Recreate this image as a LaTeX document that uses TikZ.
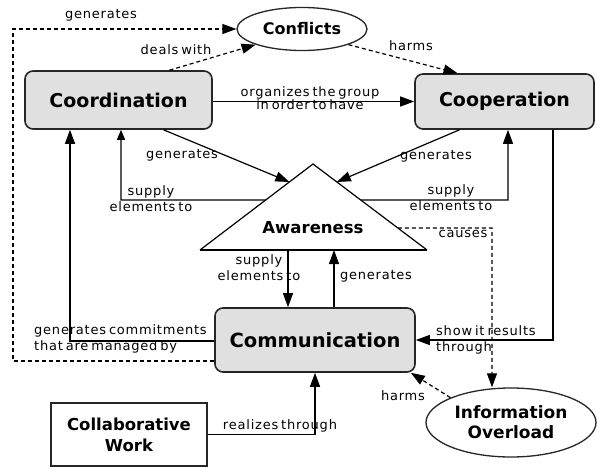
\documentclass[tikz,border=0pt]{standalone}
\usepackage{fontspec}
\setmainfont{DejaVu Sans}
\newfontfamily\lblfont[LetterSpace=6,WordSpace=0.6]{DejaVu Sans}
\usetikzlibrary{arrows.meta,shapes.geometric,calc}

\begin{document}
\begin{tikzpicture}[x=1pt,y=-1pt,
  concept/.style={draw=black!85,line width=1.6pt,fill=black!12,rounded corners=8pt,
    font=\bfseries\fontsize{19}{22}\selectfont,inner sep=0pt},
  plainbox/.style={draw=black!85,line width=1.6pt,fill=white,align=center,inner sep=0pt,
    font=\bfseries\fontsize{16.5}{21}\selectfont},
  oval/.style={ellipse,draw=black!85,line width=1.3pt,fill=white,align=center,inner sep=0pt},
  link/.style={line width=1.2pt,-{Triangle[length=14pt,width=10pt]}},
  smalllink/.style={line width=1.2pt,-{Triangle[length=10pt,width=8pt]}},
  dlink/.style={link,dash pattern=on 4pt off 3pt},
  lbl/.style={font=\lblfont\fontsize{13}{16}\selectfont,inner sep=0pt,align=center},
]
\useasboundingbox (0,0) rectangle (597,468);

% concepts
\node[concept,minimum width=187pt,minimum height=58pt] (coord) at (118.5,100) {Coordination};
\node[concept,minimum width=179pt,minimum height=55pt] (coop) at (504.5,101.5) {Cooperation};
\node[concept,minimum width=200pt,minimum height=64pt,
      font=\bfseries\fontsize{19.5}{22}\selectfont] (comm) at (315,340) {Communication};
\node[plainbox,minimum width=156pt,minimum height=63pt] (collab) at (129,434.5) {Collaborative\\Work};
\node[oval,minimum width=130pt,minimum height=43pt,
      font=\bfseries\fontsize{16}{19}\selectfont] (confl) at (302,29) {Conflicts};
\node[oval,minimum width=170pt,minimum height=69pt,
      font=\bfseries\fontsize{17}{20}\selectfont] (info) at (511,422.5) {Information\\Overload};

% awareness triangle
\coordinate (tL) at (200,250);
\coordinate (tR) at (427,250);
\coordinate (tA) at (313,164);
\draw[line width=1.2pt] (tL) -- (tA) -- (tR);
\draw[line width=2.6pt] (tL) -- (tR);
\node[font=\bfseries\fontsize{16.5}{19}\selectfont] (aware) at (313,228) {Awareness};

% anchor points on the triangle
\coordinate (aL1) at ($(tL)!0.791!(tA)$);
\coordinate (aR1) at ($(tR)!0.791!(tA)$);
\coordinate (aL2) at ($(tL)!0.581!(tA)$);
\coordinate (aR2) at ($(tR)!0.581!(tA)$);
\coordinate (aR3) at ($(tR)!0.256!(tA)$);
\coordinate (aB1) at (288,250);
\coordinate (aB2) at (334,250);

% bend points
\coordinate (gA) at (13,361);
\coordinate (gB) at (13,29);
\coordinate (sL) at (121,200);
\coordinate (sR) at (508,200);
\coordinate (cm) at (70,341);
\coordinate (sh) at (553,340);
\coordinate (cs) at (492,228);

% coordination -> cooperation
\draw[link] (coop.west -| coord.east) -- (coop.west);
\node[lbl,font=\lblfont\fontsize{13}{12}\selectfont] at (310,98) {organizes the group\\in order to have};

% conflicts
\draw[dlink] (comm.west |- gA) -- (gA) -- (gB) -- (confl.west);
\node[lbl] at (101,15) {generates};
\draw[dlink] ([xshift=51pt]coord.north) -- (confl.south west);
\node[lbl] at (176,50) {deals with};
\draw[dlink] (confl.south east) -- ([xshift=-47pt]coop.north);
\node[lbl] at (411,46) {harms};

% awareness links
\draw[link] ([xshift=45pt]coord.south) -- (aL1);
\node[lbl] at (182,155) {generates};
\draw[link] ([xshift=-45pt]coop.south) -- (aR1);
\node[lbl] at (436,156) {generates};
\draw[smalllink] (aL2) -- (sL) -- (sL |- coord.south);
\node[lbl] at (151,199) {supply\\elements to};
\draw[link] (aR2) -- (sR) -- (sR |- coop.south);
\node[lbl] at (451,198) {supply\\elements to};
\draw[link] (aB1) -- (aB1 |- comm.north);
\node[lbl] at (259,268) {supply\\elements to};
\draw[link] (aB2 |- comm.north) -- (aB2);
\node[lbl] at (376,276) {generates};
\draw[dlink] (aR3) -- (cs) -- (cs |- info.north);
\node[lbl] at (463,234) {causes};

% communication links
\draw[link] (comm.west |- cm) -- (cm) -- (cm |- coord.south);
\node[lbl,anchor=west,align=left] at (34,339) {generates commitments\\that are managed by};
\draw[link] (sh |- coop.south) -- (sh) -- (comm.east |- sh);
\node[lbl,anchor=west,align=left] at (436,340) {show it results\\through};
\draw[dlink] (info.north west) -- ([xshift=-5pt]comm.south east);
\node[lbl] at (403,396) {harms};
\draw[link] (collab.east) -| (comm.south);
\node[lbl] at (280,426) {realizes through};
\end{tikzpicture}
\end{document}
